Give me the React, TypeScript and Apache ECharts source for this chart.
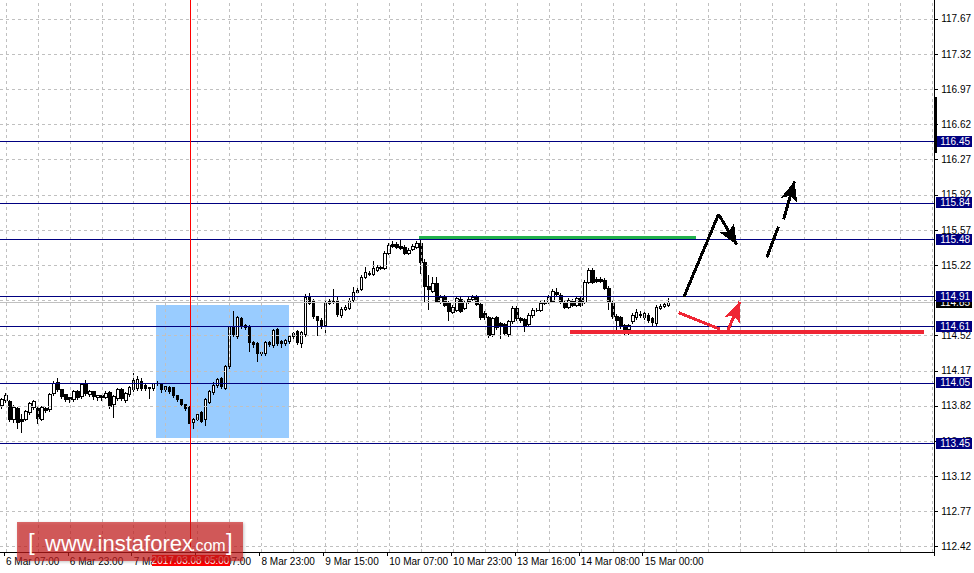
import React, { useEffect, useRef } from "react";
import * as echarts from "echarts";

// ---- candle data (H1 bars, index 0 = 6 Mar 06:00) ----
const OPEN = [
  113.82, 113.87, 113.86, 113.69, 113.79, 113.69, 113.69, 113.75, 113.80, 113.79,
  113.69, 113.79, 113.78, 113.94, 114.05, 113.98, 113.93, 113.90, 113.88, 113.96,
  113.91, 114.03, 113.93, 113.96, 113.90, 113.92, 113.90, 113.95, 113.83, 113.89,
  113.98, 113.87, 113.93, 113.98, 113.99, 114.06, 114.02, 114.00, 113.99, 114.04,
  114.04, 113.98, 114.00, 114.00, 113.92, 113.88, 113.83, 113.81, 113.66, 113.69,
  113.75, 113.69, 113.85, 113.95, 114.02, 114.09, 113.99, 114.21, 114.60, 114.51,
  114.69, 114.62, 114.61, 114.45, 114.44, 114.35, 114.34, 114.45, 114.42, 114.58,
  114.46, 114.44, 114.46, 114.51, 114.56, 114.44, 114.53, 114.90, 114.86, 114.71,
  114.67, 114.62, 114.86, 114.85, 114.86, 114.72, 114.78, 114.79, 114.87, 114.97,
  114.98, 115.10, 115.13, 115.13, 115.17, 115.19, 115.19, 115.34, 115.43, 115.43,
  115.41, 115.40, 115.34, 115.38, 115.40, 115.44, 115.25, 115.01, 114.96, 115.04,
  114.85, 114.90, 114.84, 114.75, 114.77, 114.88, 114.79, 114.88, 114.88, 114.90,
  114.83, 114.74, 114.70, 114.53, 114.70, 114.64, 114.63, 114.53, 114.66, 114.79,
  114.69, 114.68, 114.63, 114.72, 114.77, 114.77, 114.84, 114.85, 114.86, 114.95,
  114.92, 114.85, 114.80, 114.86, 114.82, 114.89, 114.85, 115.05, 115.17, 115.08,
  115.08, 115.07, 114.99, 114.85, 114.71, 114.70, 114.62, 114.58, 114.66, 114.70,
  114.72, 114.70, 114.72, 114.69, 114.64, 114.79, 114.81, 114.82,
];
const CLOSE = [
  113.88, 113.92, 113.69, 113.80, 113.66, 113.67, 113.76, 113.84, 113.86, 113.70,
  113.80, 113.77, 113.93, 114.04, 113.98, 113.91, 113.88, 113.88, 113.96, 113.90,
  114.03, 113.94, 113.96, 113.91, 113.92, 113.90, 113.94, 113.81, 113.91, 113.98,
  113.89, 113.94, 114.00, 114.07, 114.08, 113.99, 113.99, 113.99, 114.04, 114.04,
  113.98, 114.01, 113.96, 113.92, 113.88, 113.83, 113.79, 113.65, 113.69, 113.74,
  113.67, 113.88, 113.96, 114.02, 114.08, 114.01, 114.21, 114.60, 114.53, 114.70,
  114.61, 114.60, 114.45, 114.43, 114.34, 114.34, 114.45, 114.43, 114.57, 114.44,
  114.44, 114.47, 114.51, 114.54, 114.45, 114.55, 114.90, 114.84, 114.71, 114.67,
  114.61, 114.84, 114.84, 114.86, 114.73, 114.78, 114.80, 114.87, 114.95, 114.95,
  115.10, 115.15, 115.14, 115.19, 115.20, 115.20, 115.34, 115.42, 115.41, 115.40,
  115.39, 115.34, 115.37, 115.41, 115.44, 115.25, 115.01, 114.98, 115.04, 114.86,
  114.90, 114.82, 114.76, 114.80, 114.89, 114.76, 114.85, 114.85, 114.90, 114.83,
  114.70, 114.70, 114.52, 114.69, 114.60, 114.62, 114.54, 114.66, 114.79, 114.69,
  114.67, 114.61, 114.72, 114.77, 114.77, 114.84, 114.85, 114.90, 114.96, 114.93,
  114.85, 114.80, 114.87, 114.82, 114.89, 114.82, 115.05, 115.17, 115.05, 115.06,
  115.06, 114.99, 114.85, 114.71, 114.67, 114.61, 114.55, 114.62, 114.72, 114.75,
  114.73, 114.74, 114.67, 114.65, 114.80, 114.81, 114.83, 114.85,
];
const LOW = [
  113.79, 113.85, 113.66, 113.65, 113.59, 113.55, 113.67, 113.73, 113.78, 113.64,
  113.67, 113.75, 113.76, 113.92, 113.96, 113.89, 113.86, 113.85, 113.86, 113.88,
  113.89, 113.92, 113.91, 113.88, 113.87, 113.87, 113.89, 113.79, 113.70, 113.87,
  113.87, 113.85, 113.91, 113.96, 113.97, 113.97, 113.97, 113.89, 113.97, 114.02,
  113.95, 113.96, 113.94, 113.90, 113.86, 113.81, 113.77, 113.64, 113.59, 113.67,
  113.65, 113.62, 113.84, 113.93, 114.00, 113.99, 113.98, 114.19, 114.51, 114.49,
  114.59, 114.58, 114.36, 114.40, 114.26, 114.32, 114.32, 114.41, 114.40, 114.42,
  114.40, 114.42, 114.44, 114.49, 114.43, 114.40, 114.51, 114.82, 114.69, 114.52,
  114.59, 114.54, 114.82, 114.83, 114.71, 114.70, 114.76, 114.77, 114.85, 114.93,
  114.96, 115.08, 115.11, 115.11, 115.15, 115.17, 115.17, 115.32, 115.39, 115.38,
  115.37, 115.32, 115.32, 115.36, 115.38, 115.13, 114.85, 114.77, 114.94, 114.84,
  114.83, 114.80, 114.67, 114.73, 114.75, 114.74, 114.77, 114.83, 114.86, 114.81,
  114.68, 114.68, 114.50, 114.51, 114.58, 114.49, 114.52, 114.51, 114.64, 114.67,
  114.65, 114.56, 114.61, 114.70, 114.75, 114.75, 114.82, 114.83, 114.84, 114.91,
  114.83, 114.78, 114.78, 114.80, 114.80, 114.80, 114.83, 115.03, 115.03, 115.04,
  115.04, 114.97, 114.77, 114.69, 114.54, 114.59, 114.52, 114.53, 114.64, 114.68,
  114.70, 114.68, 114.65, 114.62, 114.62, 114.77, 114.79, 114.80,
];
const HIGH = [
  113.90, 113.95, 113.88, 113.83, 113.81, 113.74, 113.78, 113.86, 113.88, 113.81,
  113.82, 113.81, 113.95, 114.07, 114.10, 113.99, 113.94, 113.91, 113.98, 113.98,
  114.05, 114.08, 113.98, 113.97, 113.93, 113.93, 113.97, 113.97, 113.93, 114.00,
  114.00, 113.96, 114.02, 114.15, 114.12, 114.10, 114.04, 114.01, 114.05, 114.07,
  114.05, 114.02, 114.02, 114.01, 113.93, 113.89, 113.84, 113.82, 113.70, 113.76,
  113.77, 113.90, 113.98, 114.06, 114.10, 114.11, 114.23, 114.62, 114.76, 114.72,
  114.71, 114.64, 114.63, 114.47, 114.46, 114.37, 114.47, 114.47, 114.59, 114.60,
  114.48, 114.49, 114.53, 114.56, 114.58, 114.57, 114.93, 114.94, 114.88, 114.72,
  114.70, 114.87, 114.88, 114.98, 114.91, 114.80, 114.82, 114.89, 115.00, 114.99,
  115.12, 115.20, 115.16, 115.26, 115.22, 115.22, 115.36, 115.44, 115.46, 115.45,
  115.48, 115.42, 115.39, 115.43, 115.46, 115.47, 115.28, 115.12, 115.10, 115.10,
  114.92, 114.92, 114.86, 114.82, 114.91, 114.90, 114.87, 114.91, 114.92, 114.92,
  114.85, 114.76, 114.72, 114.71, 114.72, 114.66, 114.65, 114.68, 114.81, 114.81,
  114.71, 114.70, 114.74, 114.79, 114.79, 114.86, 114.87, 114.92, 114.98, 114.99,
  114.94, 114.87, 114.89, 114.88, 114.91, 114.91, 115.07, 115.19, 115.19, 115.10,
  115.10, 115.09, 115.01, 114.87, 114.73, 114.72, 114.64, 114.64, 114.74, 114.78,
  114.76, 114.77, 114.74, 114.71, 114.82, 114.83, 114.85, 114.89,
];

// ---- axes ----
const TIME_LABELS = [
  "6 Mar 07:00", "6 Mar 23:00", "7 Mar 15:00", "8 Mar 07:00", "8 Mar 23:00",
  "9 Mar 15:00", "10 Mar 07:00", "10 Mar 23:00", "13 Mar 16:00", "14 Mar 08:00", "15 Mar 00:00",
];
const Y_TICKS = [
  112.42, 112.77, 113.12, 113.47, 113.82, 114.17, 114.52, 114.87,
  115.22, 115.57, 115.92, 116.27, 116.62, 116.97, 117.32, 117.67,
];
const Y_MIN = 112.367;
const Y_MAX = 117.859;

// ---- levels & annotations ----
const LEVELS = [116.45, 115.84, 115.48, 114.91, 114.61, 114.05, 113.45];
const BID = 114.85;
const CURSOR_INDEX = 47;
const CURSOR_LABEL = "2017.03.08 05:00";
const BOX_FROM = [38.5, 114.82];
const BOX_TO = [72, 113.5];
const GREEN_LINE = [[104.5, 115.5], [173.75, 115.5]];
const RED_LINE = [[142.25, 114.56], [231, 114.56]];
const BLACK_SEGS = [
  [[170.83, 114.907], [179.5, 115.727], false],
  [[179.5, 115.727], [184.05, 115.424], true],
  [[191.6, 115.299], [194.5, 115.604], false],
  [[195.8, 115.677], [198.5, 116.055], true],
];
const RED_SEGS = [
  [[169.5, 114.748], [179.9, 114.583], false],
  [[181.8, 114.569], [184.85, 114.855], true],
];

const SLOTS = 234;
const X_MIN = -0.5;
const X_MAX = SLOTS - 0.5;
const FONT = "'Liberation Sans', Arial, sans-serif";

export default function App() {
  const ref = useRef<HTMLDivElement>(null);
  useEffect(() => {
    document.body.style.margin = "0";
    const chart = echarts.init(ref.current!, null, { renderer: "svg" });
    const cats = Array.from({ length: SLOTS }, (_, i) => String(i));
    const isLabel = (i: number) => (i - 1) % 16 === 0 && (i - 1) / 16 < TIME_LABELS.length;
    const gridX: number[] = [];
    for (let v = 1; v < SLOTS; v += 8) gridX.push(v);
    const candles = OPEN.map((o, i) => [o, CLOSE[i], LOW[i], HIGH[i]]);

    const hLine = (v: number, text?: string) => [
      { coord: [X_MIN, v], label: text ? { formatter: text } : undefined },
      { coord: [X_MAX, v] },
    ];
    const vLine = (v: number) => [{ coord: [v, Y_MIN] }, { coord: [v, Y_MAX] }];

    const segLine = (segs: any[]) =>
      segs.map((s) => [
        { coord: s[0], symbol: "none" },
        { coord: s[1], symbol: s[2] ? "arrow" : "none", symbolSize: [13, 20] },
      ]);

    const levelLabel = (bg: string) => ({
      show: true,
      position: "end",
      distance: 2,
      backgroundColor: bg,
      color: "#fff",
      fontSize: 10,
      fontFamily: FONT,
      lineHeight: 11,
      padding: [0, 2, 0, 4],
    });

    const markSeries = (z: number, color: string, markLine: any) => ({
      type: "line",
      xAxisIndex: 1,
      data: [],
      z,
      silent: true,
      color,
      itemStyle: { color },
      lineStyle: { color },
      markLine: { silent: true, symbol: "none", animation: false, ...markLine },
    });

    const option: any = {
      animation: false,
      backgroundColor: "#fff",
      grid: { left: -1, top: 0, width: 936, height: 552 },
      xAxis: [
        {
          type: "category",
          data: cats,
          boundaryGap: true,
          position: "bottom",
          axisLine: { onZero: false, lineStyle: { color: "#000", width: 1 } },
          axisTick: { show: true, length: 4, interval: (i: number) => isLabel(i), lineStyle: { color: "#000" } },
          axisLabel: {
            interval: (i: number) => isLabel(i),
            formatter: (_v: string, i: number) => (isLabel(i) ? TIME_LABELS[(i - 1) / 16] : ""),
            align: "left",
            margin: 4,
            color: "#000",
            fontSize: 10,
            fontFamily: FONT,
          },
          splitLine: { show: false },
          axisPointer: { show: false },
        },
        { type: "value", min: X_MIN, max: X_MAX, show: false, position: "top", axisLine: { onZero: false } },
      ],
      yAxis: {
        type: "value",
        position: "right",
        min: Y_MIN,
        max: Y_MAX,
        axisLine: { show: true, onZero: false, lineStyle: { color: "#000", width: 1 } },
        axisTick: { show: true, length: 4, customValues: Y_TICKS, lineStyle: { color: "#000" } },
        axisLabel: {
          customValues: Y_TICKS,
          formatter: (v: number) => v.toFixed(2),
          margin: 7,
          color: "#000",
          fontSize: 10,
          fontFamily: FONT,
        },
        splitLine: { show: false },
      },
      series: [
        {
          type: "line",
          xAxisIndex: 1,
          data: [],
          z: 1,
          silent: true,
          markArea: {
            silent: true,
            itemStyle: { color: "#99ccff", opacity: 1 },
            data: [[{ coord: BOX_FROM }, { coord: BOX_TO }]],
          },
        },
        markSeries(2, "#c0c0c0", {
          label: { show: false },
          lineStyle: { color: "#c0c0c0", type: [3, 3], width: 1, opacity: 1 },
          data: [...gridX.map((v) => vLine(v)), ...Y_TICKS.map((v) => hLine(v))],
        }),
        markSeries(3, "#c0c0c0", {
          lineStyle: { color: "#c0c0c0", type: "solid", width: 1, opacity: 1 },
          label: levelLabel("#000"),
          data: [hLine(BID, BID.toFixed(2))],
        }),
        markSeries(3, "#000080", {
          lineStyle: { color: "#000080", type: "solid", width: 1, opacity: 1 },
          label: levelLabel("#000080"),
          data: LEVELS.map((v) => hLine(v, v.toFixed(2))),
        }),
        {
          type: "candlestick",
          xAxisIndex: 0,
          data: candles,
          barWidth: 3,
          z: 4,
          itemStyle: {
            color: "#fff",
            color0: "#000",
            borderColor: "#000",
            borderColor0: "#000",
            borderWidth: 1,
          },
        },
        markSeries(6, "#22b14c", {
          label: { show: false },
          lineStyle: { color: "#22b14c", type: "solid", width: 3, opacity: 1 },
          data: [[{ coord: GREEN_LINE[0] }, { coord: GREEN_LINE[1] }]],
        }),
        markSeries(6, "#ef2634", {
          label: { show: false },
          lineStyle: { color: "#ef2634", type: "solid", width: 4, opacity: 1 },
          data: [[{ coord: RED_LINE[0] }, { coord: RED_LINE[1] }]],
        }),
        markSeries(7, "#000", {
          label: { show: false },
          lineStyle: { color: "#000", type: "solid", width: 3, opacity: 1 },
          data: segLine(BLACK_SEGS),
        }),
        markSeries(7, "#ef2634", {
          label: { show: false },
          lineStyle: { color: "#ef2634", type: "solid", width: 3, opacity: 1 },
          data: segLine(RED_SEGS),
        }),
      ],
    };
    chart.setOption(option);

    // cursor line + its time label, positioned through the chart's own scales
    const top = chart.convertToPixel({ xAxisIndex: 1, yAxisIndex: 0 }, [CURSOR_INDEX, Y_MAX]) as number[];
    const bot = chart.convertToPixel({ xAxisIndex: 1, yAxisIndex: 0 }, [CURSOR_INDEX, Y_MIN]) as number[];
    const cx = Math.round(top[0]) + 0.5;

    chart.setOption({
      graphic: [
        {
          type: "line",
          shape: { x1: cx, y1: top[1], x2: cx, y2: bot[1] },
          style: { stroke: "#ff0000", lineWidth: 1 },
          z: 60,
          silent: true,
        },
        {
          type: "rect",
          shape: { x: cx - 39, y: bot[1] + 3, width: 78, height: 11 },
          style: { fill: "#ff0000" },
          z: 60,
          silent: true,
        },
        {
          type: "text",
          x: cx,
          y: bot[1] + 3.5,
          style: {
            text: CURSOR_LABEL,
            fill: "#fff",
            font: `10px ${FONT}`,
            align: "center",
            verticalAlign: "top",
          },
          z: 61,
          silent: true,
        },
        { type: "rect", shape: { x: 934, y: 97, width: 3, height: 56 }, style: { fill: "#000" }, z: 50 },
        {
          type: "rect",
          shape: { x: 17, y: 522, width: 226, height: 39 },
          style: {
            fill: "rgba(200,30,30,0.65)",
            shadowBlur: 3,
            shadowOffsetX: 1,
            shadowOffsetY: 1,
            shadowColor: "rgba(0,0,0,0.35)",
          },
          z: 100,
        },
        {
          type: "text",
          x: 28,
          y: 541,
          z: 101,
          style: { text: "[", fill: "#fff", font: `24px ${FONT}`, verticalAlign: "middle" },
        },
        {
          type: "text",
          x: 45,
          y: 554,
          z: 101,
          style: { text: "www.instaforex", fill: "#fff", font: `22px ${FONT}`, verticalAlign: "bottom" },
        },
        {
          type: "text",
          x: 191,
          y: 553,
          z: 101,
          style: { text: ".com", fill: "#fff", font: `16px ${FONT}`, verticalAlign: "bottom" },
        },
        {
          type: "text",
          x: 226,
          y: 541,
          z: 101,
          style: { text: "]", fill: "#fff", font: `24px ${FONT}`, verticalAlign: "middle" },
        },
      ],
    });
    return () => chart.dispose();
  }, []);
  return (
    <div>
      <style>{".chart-host svg path { shape-rendering: crispEdges; }"}</style>
      <div className="chart-host" ref={ref} style={{ width: 974, height: 573 }} />
    </div>
  );
}
